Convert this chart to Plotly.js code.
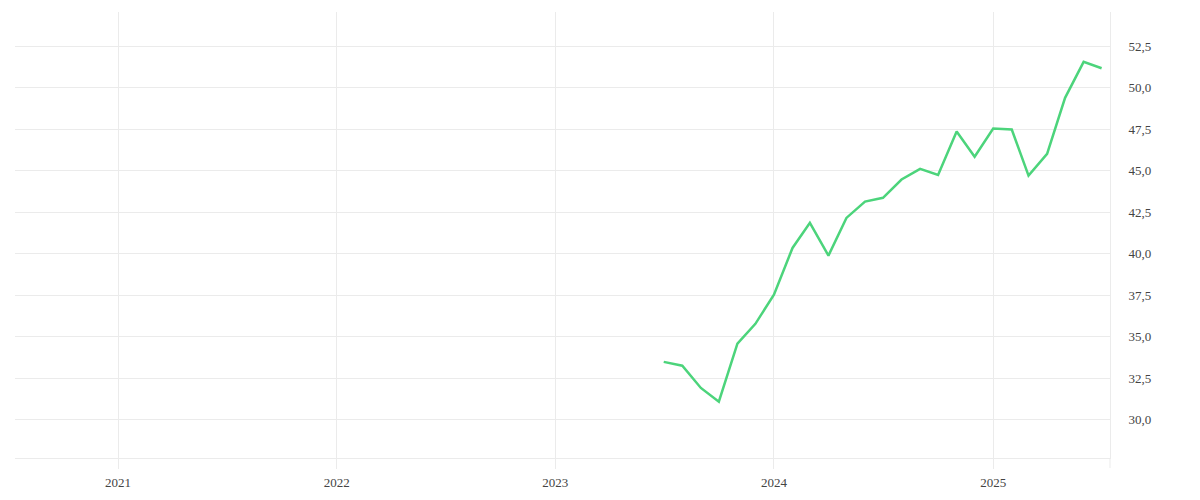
<!DOCTYPE html>
<html>
<head>
<meta charset="utf-8">
<script src="https://cdn.plot.ly/plotly-3.0.1.min.js"></script>
<style>
  html, body { margin: 0; padding: 0; background: #fff; }
  #chart { width: 1200px; height: 500px; }
</style>
</head>
<body>
<div id="chart"></div>
<script>
// monthly readings, Jul 2023 .. Jul 2025
const months = [
    '2023-07-01', '2023-08-01', '2023-09-01', '2023-10-01', '2023-11-01', '2023-12-01',
    '2024-01-01', '2024-02-01', '2024-03-01', '2024-04-01', '2024-05-01', '2024-06-01',
    '2024-07-01', '2024-08-01', '2024-09-01', '2024-10-01', '2024-11-01', '2024-12-01',
    '2025-01-01', '2025-02-01', '2025-03-01', '2025-04-01', '2025-05-01', '2025-06-01',
    '2025-07-01'
];
const values = [
    33.48, 33.25, 31.91, 31.08, 34.58, 35.77,
    37.53, 40.34, 41.85, 39.88, 42.15, 43.13,
    43.36, 44.46, 45.10, 44.74, 47.35, 45.83,
    47.53, 47.47, 44.70, 46.01, 49.38, 51.55,
    51.16
];
const yearTicks = ['2021-01-01', '2022-01-01', '2023-01-01', '2024-01-01', '2025-01-01'];
const yearLabels = ['2021', '2022', '2023', '2024', '2025'];

const gridColor = '#ebebeb';
const textColor = '#444';

const trace = {
    type: 'scatter',
    mode: 'lines',
    x: months,
    y: values,
    line: { color: '#4cd47b', width: 2.5 },
    hoverinfo: 'x+y'
};

const layout = {
    width: 1200,
    height: 500,
    paper_bgcolor: '#fff',
    plot_bgcolor: '#fff',
    separators: ',.',
    font: { family: '"Liberation Serif", "DejaVu Serif", serif', size: 13, color: textColor },
    margin: { l: 15, r: 90, t: 12, b: 42 },
    showlegend: false,
    xaxis: {
        type: 'date',
        range: ['2020-07-13', '2025-07-15'],
        tickmode: 'array',
        tickvals: yearTicks,
        ticktext: yearLabels,
        showgrid: true,
        gridcolor: gridColor,
        gridwidth: 1,
        showline: true,
        linecolor: gridColor,
        linewidth: 1,
        ticks: 'outside',
        ticklen: 10,
        tickcolor: gridColor,
        ticklabelstandoff: 2,
        zeroline: false
    },
    yaxis: {
        side: 'right',
        range: [27.69, 54.55],
        tick0: 0,
        dtick: 2.5,
        tickformat: '.1f',
        showgrid: true,
        gridcolor: gridColor,
        gridwidth: 1,
        showline: true,
        linecolor: gridColor,
        linewidth: 1,
        ticks: 'outside',
        ticklen: 15,
        tickcolor: 'rgba(0,0,0,0)',
        zeroline: false
    },
    shapes: [{
        // right frame line runs a little past the x axis, like the year ticks
        type: 'line', xref: 'paper', yref: 'paper',
        x0: 1, x1: 1, y0: 0, y1: -0.0224,
        line: { color: gridColor, width: 1 }
    }]
};

Plotly.newPlot('chart', [trace], layout, { displayModeBar: false, staticPlot: true });
</script>
</body>
</html>
